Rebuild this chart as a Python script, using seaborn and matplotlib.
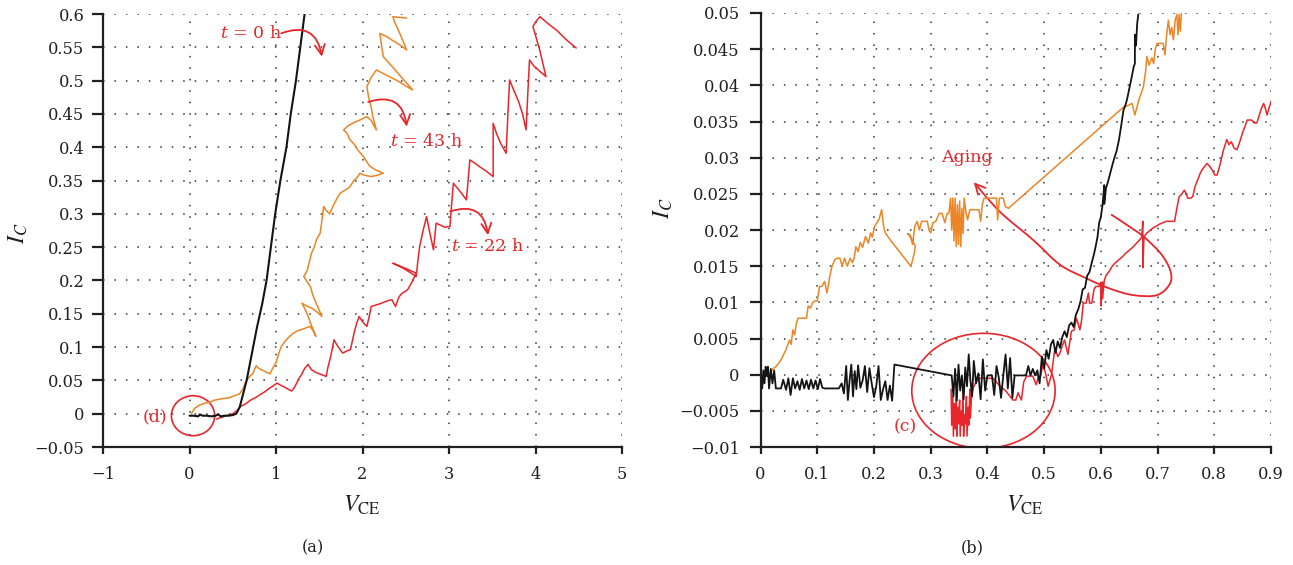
import numpy as np
import matplotlib
matplotlib.use("Agg")
import matplotlib.pyplot as plt
import seaborn as sns
from matplotlib.patches import Ellipse, FancyArrowPatch
from matplotlib.path import Path

# ---------------- data: panel (a) ----------------
t0_x = [0.00, 0.05, 0.10, 0.12, 0.15, 0.20, 0.25, 0.30, 0.33, 0.36, 0.40, 0.45, 0.50, 0.54,
        0.58, 0.62, 0.66, 0.72, 0.78, 0.84, 0.89, 0.94, 0.99, 1.05, 1.12, 1.17, 1.23, 1.28, 1.33]
t0_y = [-0.003, -0.003, -0.004, -0.001, -0.003, -0.003, -0.004, -0.003, -0.001, -0.004, -0.003,
        -0.003, -0.002, 0.000, 0.010, 0.030, 0.050, 0.090, 0.130, 0.165, 0.200, 0.250, 0.300,
        0.350, 0.400, 0.450, 0.500, 0.550, 0.600]

t43_x = [0.02, 0.06, 0.10, 0.14, 0.18, 0.23, 0.28, 0.35, 0.40, 0.46,
         0.52, 0.58, 0.62, 0.64, 0.66, 0.69, 0.71, 0.73, 0.75, 0.77,
         0.80, 0.85, 0.89, 0.93, 0.96, 1.00, 1.03, 1.06, 1.10, 1.14,
         1.20, 1.26, 1.33, 1.39, 1.43, 1.46, 1.41, 1.36, 1.30, 1.35,
         1.42, 1.48, 1.53, 1.49, 1.45, 1.42, 1.40, 1.36, 1.32, 1.36,
         1.41, 1.44, 1.47, 1.51, 1.53, 1.55, 1.58, 1.62, 1.66, 1.70,
         1.74, 1.79, 1.85, 1.90, 1.94, 1.97, 2.02, 2.10, 2.17, 2.24,
         2.15, 2.08, 2.01, 1.95, 1.90, 1.85, 1.82, 1.78, 1.83, 1.90,
         1.97, 2.05, 2.10, 2.16, 2.12, 2.10, 2.07, 2.05, 2.10, 2.16,
         2.28, 2.40, 2.50, 2.58, 2.45, 2.35, 2.24, 2.22, 2.20, 2.28,
         2.35, 2.44, 2.51, 2.45, 2.40, 2.37, 2.35, 2.42, 2.51]
t43_y = [0.000, 0.008, 0.012, 0.014, 0.016, 0.017, 0.020, 0.022, 0.023, 0.024,
         0.027, 0.030, 0.038, 0.045, 0.050, 0.055, 0.058, 0.060, 0.066, 0.072,
         0.068, 0.065, 0.062, 0.060, 0.068, 0.077, 0.090, 0.101, 0.108, 0.114,
         0.121, 0.125, 0.128, 0.131, 0.125, 0.116, 0.132, 0.150, 0.166, 0.162,
         0.158, 0.152, 0.146, 0.158, 0.170, 0.180, 0.190, 0.198, 0.206, 0.215,
         0.241, 0.250, 0.262, 0.271, 0.290, 0.311, 0.305, 0.300, 0.312, 0.322,
         0.331, 0.335, 0.340, 0.350, 0.355, 0.361, 0.358, 0.356, 0.358, 0.361,
         0.366, 0.372, 0.386, 0.395, 0.405, 0.412, 0.421, 0.426, 0.432, 0.437,
         0.441, 0.446, 0.440, 0.426, 0.445, 0.460, 0.475, 0.491, 0.505, 0.516,
         0.508, 0.500, 0.492, 0.486, 0.505, 0.520, 0.536, 0.552, 0.571, 0.566,
         0.560, 0.553, 0.546, 0.565, 0.580, 0.588, 0.596, 0.595, 0.594]

t22_x = [0.31, 0.36, 0.40, 0.45, 0.50, 0.55, 0.59, 0.65, 0.70, 0.76,
         0.82, 0.87, 0.92, 0.97, 1.01, 1.05, 1.08, 1.11, 1.15, 1.18,
         1.22, 1.26, 1.30, 1.33, 1.37, 1.41, 1.46, 1.50, 1.54, 1.58,
         1.60, 1.63, 1.67, 1.70, 1.72, 1.77, 1.80, 1.83, 1.86, 1.90,
         1.93, 1.96, 2.00, 2.05, 2.08, 2.10, 2.15, 2.20, 2.26, 2.30,
         2.34, 2.38, 2.42, 2.45, 2.52, 2.56, 2.58, 2.62, 2.50, 2.42,
         2.35, 2.45, 2.55, 2.62, 2.64, 2.66, 2.70, 2.74, 2.78, 2.82,
         2.85, 2.90, 2.95, 3.01, 3.03, 3.05, 3.10, 3.15, 3.20, 3.22,
         3.24, 3.30, 3.35, 3.42, 3.51, 3.51, 3.55, 3.60, 3.66, 3.68,
         3.70, 3.75, 3.80, 3.85, 3.89, 3.91, 3.93, 3.98, 4.05, 4.12,
         4.05, 3.97, 4.00, 4.05, 4.15, 4.25, 4.35, 4.47]
t22_y = [-0.008, -0.006, -0.004, -0.002, 0.000, 0.005, 0.011, 0.015, 0.020, 0.024,
         0.029, 0.033, 0.038, 0.042, 0.046, 0.043, 0.041, 0.039, 0.036, 0.034,
         0.041, 0.052, 0.060, 0.068, 0.074, 0.066, 0.062, 0.060, 0.058, 0.056,
         0.070, 0.085, 0.111, 0.104, 0.100, 0.091, 0.093, 0.095, 0.096, 0.120,
         0.135, 0.146, 0.138, 0.131, 0.148, 0.161, 0.163, 0.165, 0.168, 0.170,
         0.171, 0.161, 0.175, 0.180, 0.186, 0.195, 0.200, 0.211, 0.218, 0.222,
         0.226, 0.220, 0.212, 0.206, 0.230, 0.251, 0.275, 0.296, 0.270, 0.246,
         0.286, 0.283, 0.280, 0.281, 0.315, 0.346, 0.338, 0.330, 0.321, 0.350,
         0.381, 0.376, 0.371, 0.365, 0.356, 0.436, 0.420, 0.405, 0.391, 0.450,
         0.501, 0.485, 0.470, 0.450, 0.426, 0.480, 0.531, 0.522, 0.514, 0.506,
         0.545, 0.581, 0.588, 0.596, 0.585, 0.575, 0.562, 0.549]

# ---------------- data: panel (b) ----------------
b_black_x = [0.000, 0.000, 0.000, 0.003, 0.005, 0.007, 0.009, 0.011, 0.013, 0.015,
             0.018, 0.021, 0.024, 0.027, 0.031, 0.036, 0.040, 0.045, 0.049, 0.053,
             0.057, 0.061, 0.065, 0.069, 0.073, 0.077, 0.081, 0.085, 0.089, 0.093,
             0.097, 0.101, 0.105, 0.109, 0.113, 0.118, 0.123, 0.128, 0.133, 0.138,
             0.143, 0.147, 0.151, 0.154, 0.157, 0.160, 0.163, 0.166, 0.169, 0.172,
             0.176, 0.180, 0.184, 0.188, 0.192, 0.196, 0.200, 0.204, 0.208, 0.212,
             0.216, 0.220, 0.224, 0.228, 0.232, 0.236, 0.337, 0.340, 0.343, 0.346,
             0.349, 0.352, 0.355, 0.358, 0.361, 0.364, 0.367, 0.370, 0.373, 0.376,
             0.380, 0.384, 0.388, 0.392, 0.396, 0.400, 0.404, 0.408, 0.412, 0.416,
             0.420, 0.424, 0.428, 0.432, 0.436, 0.440, 0.444, 0.448, 0.452, 0.456,
             0.460, 0.464, 0.468, 0.472, 0.476, 0.480, 0.484, 0.488, 0.492, 0.496,
             0.500, 0.504, 0.508, 0.512, 0.516, 0.520, 0.524, 0.528, 0.532, 0.536,
             0.540, 0.544, 0.548, 0.552, 0.556, 0.560, 0.564, 0.568, 0.572, 0.576,
             0.580, 0.584, 0.588, 0.591, 0.594, 0.597, 0.600, 0.603, 0.606, 0.606,
             0.609, 0.612, 0.615, 0.618, 0.621, 0.624, 0.628, 0.632, 0.636, 0.640,
             0.643, 0.646, 0.650, 0.654, 0.658, 0.660, 0.660, 0.662, 0.664, 0.666]
b_black_y = [0.0027, -0.0053, 0.0010, -0.0019, 0.0006, -0.0012, 0.0011, -0.0002, 0.0011, -0.0019,
             0.0008, -0.0012, 0.0006, -0.0019, -0.0019, -0.0019, -0.0007, -0.0021, -0.0005, -0.0028,
             -0.0005, -0.0019, -0.0009, -0.0021, -0.0006, -0.0019, -0.0008, -0.0020, -0.0007, -0.0019,
             -0.0008, -0.0020, -0.0006, -0.0018, -0.0019, -0.0019, -0.0019, -0.0019, -0.0019, -0.0019,
             -0.0012, -0.0026, 0.0012, -0.0035, -0.0008, 0.0014, -0.0030, 0.0005, -0.0020, 0.0013,
             -0.0018, -0.0008, 0.0012, -0.0024, 0.0009, -0.0012, -0.0031, -0.0016, 0.0012, -0.0035,
             -0.0020, -0.0009, -0.0035, -0.0015, -0.0036, 0.0014, -0.0001, -0.0030, 0.0008, -0.0036,
             0.0014, -0.0022, -0.0001, -0.0034, 0.0010, -0.0016, 0.0028, -0.0008, -0.0030, 0.0019,
             -0.0012, 0.0002, -0.0034, 0.0021, -0.0022, -0.0001, -0.0001, -0.0001, -0.0028, 0.0012,
             -0.0004, -0.0032, -0.0001, 0.0028, -0.0019, 0.0023, -0.0032, -0.0001, -0.0001, -0.0001,
             -0.0001, -0.0001, -0.0001, 0.0012, -0.0001, 0.0008, -0.0001, 0.0006, -0.0012, 0.0025,
             0.0008, 0.0034, 0.0022, 0.0042, 0.0048, 0.0030, 0.0046, 0.0037, 0.0052, 0.0060,
             0.0052, 0.0068, 0.0072, 0.0066, 0.0083, 0.0090, 0.0101, 0.0118, 0.0120, 0.0137,
             0.0142, 0.0155, 0.0167, 0.0178, 0.0190, 0.0210, 0.0218, 0.0235, 0.0262, 0.0236,
             0.0258, 0.0265, 0.0274, 0.0283, 0.0292, 0.0300, 0.0310, 0.0325, 0.0345, 0.0366,
             0.0372, 0.0380, 0.0395, 0.0410, 0.0426, 0.0430, 0.0470, 0.0455, 0.0485, 0.0498]

b_orange_x = [0.000, 0.000, 0.002, 0.008, 0.016, 0.022, 0.028, 0.034, 0.039, 0.045,
              0.051, 0.054, 0.057, 0.060, 0.063, 0.066, 0.070, 0.075, 0.081, 0.084,
              0.088, 0.092, 0.096, 0.100, 0.104, 0.108, 0.113, 0.117, 0.120, 0.122,
              0.126, 0.131, 0.135, 0.140, 0.144, 0.148, 0.153, 0.158, 0.162, 0.165,
              0.168, 0.172, 0.176, 0.180, 0.185, 0.190, 0.194, 0.197, 0.201, 0.205,
              0.209, 0.2135, 0.217, 0.220, 0.230, 0.240, 0.250, 0.258, 0.265, 0.268,
              0.271, 0.273, 0.262, 0.259, 0.264, 0.268, 0.272, 0.276, 0.280, 0.284,
              0.290, 0.294, 0.297, 0.300, 0.304, 0.309, 0.315, 0.320, 0.325, 0.329,
              0.332, 0.335, 0.337, 0.339, 0.341, 0.343, 0.345, 0.347, 0.349, 0.351,
              0.353, 0.355, 0.357, 0.359, 0.362, 0.365, 0.369, 0.374, 0.380, 0.385,
              0.388, 0.391, 0.394, 0.399, 0.405, 0.410, 0.416, 0.418, 0.421, 0.424,
              0.428, 0.432, 0.437, 0.640, 0.648, 0.655, 0.660, 0.667, 0.675, 0.679,
              0.681, 0.685, 0.690, 0.693, 0.696, 0.699, 0.705, 0.710, 0.713, 0.716,
              0.719, 0.722, 0.725, 0.728, 0.731, 0.734, 0.736, 0.738, 0.740, 0.742]
b_orange_y = [-0.0050, 0.0030, -0.0010, 0.0000, 0.0002, 0.0008, 0.0012, 0.0018, 0.0025, 0.0035,
              0.0048, 0.0042, 0.0062, 0.0055, 0.0070, 0.0078, 0.0078, 0.0078, 0.0078, 0.0095,
              0.0092, 0.0100, 0.0102, 0.0102, 0.0122, 0.0122, 0.0129, 0.0113, 0.0125, 0.0136,
              0.0150, 0.0159, 0.0161, 0.0161, 0.0150, 0.0161, 0.0150, 0.0161, 0.0155, 0.0161,
              0.0177, 0.0170, 0.0183, 0.0176, 0.0191, 0.0182, 0.0196, 0.0190, 0.0205, 0.0210,
              0.0215, 0.0228, 0.0205, 0.0196, 0.0185, 0.0175, 0.0165, 0.0157, 0.0150, 0.0158,
              0.0168, 0.0178, 0.0193, 0.0195, 0.0193, 0.0180, 0.0205, 0.0212, 0.0200, 0.0212,
              0.0212, 0.0212, 0.0200, 0.0196, 0.0210, 0.0212, 0.0223, 0.0223, 0.0210, 0.0223,
              0.0223, 0.0244, 0.0200, 0.0244, 0.0185, 0.0244, 0.0177, 0.0235, 0.0180, 0.0240,
              0.0177, 0.0230, 0.0195, 0.0244, 0.0225, 0.0214, 0.0228, 0.0228, 0.0228, 0.0228,
              0.0212, 0.0235, 0.0244, 0.0244, 0.0244, 0.0244, 0.0244, 0.0214, 0.0244, 0.0244,
              0.0244, 0.0232, 0.0230, 0.0370, 0.0372, 0.0375, 0.0359, 0.0380, 0.0398, 0.0420,
              0.0440, 0.0428, 0.0438, 0.0430, 0.0450, 0.0458, 0.0458, 0.0458, 0.0442, 0.0470,
              0.0490, 0.0470, 0.0480, 0.0463, 0.0490, 0.0498, 0.0470, 0.0498, 0.0475, 0.0500]

b_red_x = [0.336, 0.337, 0.339, 0.340, 0.342, 0.343, 0.345, 0.346, 0.348, 0.349,
           0.351, 0.352, 0.354, 0.355, 0.357, 0.358, 0.360, 0.361, 0.363, 0.364,
           0.366, 0.367, 0.369, 0.370, 0.372, 0.375, 0.380, 0.385, 0.390, 0.395,
           0.400, 0.405, 0.410, 0.420, 0.433, 0.440, 0.445, 0.450, 0.454, 0.460,
           0.464, 0.469, 0.475, 0.480, 0.486, 0.490, 0.494, 0.498, 0.503, 0.507,
           0.513, 0.519, 0.524, 0.528, 0.532, 0.536, 0.542, 0.548, 0.553, 0.557,
           0.563, 0.566, 0.569, 0.574, 0.578, 0.580, 0.584, 0.588, 0.591, 0.595,
           0.598, 0.600, 0.600, 0.602, 0.603, 0.603, 0.606, 0.609, 0.615, 0.620,
           0.626, 0.632, 0.638, 0.644, 0.650, 0.656, 0.662, 0.668, 0.672, 0.674,
           0.674, 0.676, 0.680, 0.686, 0.692, 0.697, 0.703, 0.709, 0.715, 0.722,
           0.730, 0.734, 0.738, 0.743, 0.747, 0.751, 0.753, 0.758, 0.762, 0.766,
           0.771, 0.776, 0.781, 0.787, 0.792, 0.797, 0.801, 0.805, 0.810, 0.816,
           0.822, 0.826, 0.830, 0.835, 0.840, 0.845, 0.850, 0.855, 0.858, 0.862,
           0.866, 0.870, 0.875, 0.879, 0.883, 0.887, 0.890, 0.893, 0.897, 0.902]
b_red_y = [-0.0020, -0.0070, -0.0030, -0.0085, -0.0040, -0.0075, -0.0025, -0.0085, -0.0045, -0.0068,
           -0.0035, -0.0085, -0.0050, -0.0070, -0.0020, -0.0085, -0.0055, -0.0068, -0.0030, -0.0085,
           -0.0045, -0.0070, -0.0020, -0.0060, -0.0030, -0.0018, -0.0010, -0.0005, -0.0005, -0.0005,
           -0.0005, -0.0005, -0.0005, -0.0014, -0.0023, -0.0030, -0.0035, -0.0035, -0.0025, -0.0035,
           -0.0010, -0.0002, -0.0002, -0.0002, -0.0014, -0.0002, -0.0002, 0.0016, 0.0000, -0.0016,
           0.0000, 0.0037, 0.0025, 0.0030, 0.0040, 0.0048, 0.0028, 0.0060, 0.0062, 0.0078,
           0.0062, 0.0075, 0.0099, 0.0099, 0.0113, 0.0099, 0.0099, 0.0118, 0.0122, 0.0122,
           0.0122, 0.0128, 0.0095, 0.0125, 0.0128, 0.0105, 0.0130, 0.0137, 0.0143, 0.0150,
           0.0155, 0.0159, 0.0163, 0.0168, 0.0172, 0.0176, 0.0181, 0.0186, 0.0190, 0.0212,
           0.0148, 0.0190, 0.0195, 0.0199, 0.0203, 0.0205, 0.0208, 0.0210, 0.0212, 0.0212,
           0.0212, 0.0230, 0.0246, 0.0250, 0.0255, 0.0250, 0.0244, 0.0244, 0.0246, 0.0260,
           0.0270, 0.0280, 0.0286, 0.0292, 0.0288, 0.0282, 0.0276, 0.0276, 0.0290, 0.0310,
           0.0325, 0.0318, 0.0322, 0.0313, 0.0311, 0.0322, 0.0335, 0.0345, 0.0352, 0.0352,
           0.0352, 0.0348, 0.0348, 0.0358, 0.0368, 0.0375, 0.0368, 0.0359, 0.0370, 0.0382]

# ticks
a_xticks = [-1, 0, 1, 2, 3, 4, 5]
a_xlabels = ["\u22121", "0", "1", "2", "3", "4", "5"]
a_yticks = [-0.05, 0, 0.05, 0.1, 0.15, 0.2, 0.25, 0.3, 0.35, 0.4, 0.45, 0.5, 0.55, 0.6]
a_ylabels = ["\u22120.05", "0", "0.05", "0.1", "0.15", "0.2", "0.25", "0.3", "0.35", "0.4",
             "0.45", "0.5", "0.55", "0.6"]
b_xticks = [0, 0.1, 0.2, 0.3, 0.4, 0.5, 0.6, 0.7, 0.8, 0.9]
b_xlabels = ["0", "0.1", "0.2", "0.3", "0.4", "0.5", "0.6", "0.7", "0.8", "0.9"]
b_yticks = [-0.01, -0.005, 0, 0.005, 0.01, 0.015, 0.02, 0.025, 0.03, 0.035, 0.04, 0.045, 0.05]
b_ylabels = ["\u22120.01", "\u22120.005", "0", "0.005", "0.01", "0.015", "0.02", "0.025", "0.03",
             "0.035", "0.04", "0.045", "0.05"]

# annotation shape of "Aging" loop (panel b)
aging_x = [0.619, 0.646, 0.675, 0.705, 0.722, 0.722, 0.699, 0.657, 0.616, 0.575, 0.528, 0.481, 0.4224, 0.376]
aging_y = [0.0221, 0.0207, 0.0191, 0.0168, 0.0145, 0.0126, 0.0110, 0.0110, 0.0119, 0.0133, 0.0152, 0.0186, 0.0225, 0.0266]

# ---------------- style ----------------
sns.set_style("ticks")
plt.rcParams["font.family"] = ["DejaVu Serif"]
plt.rcParams["mathtext.fontset"] = "stix"

BLACK = "#141414"
ORANGE = "#EC8526"
RED = "#E8262B"
AX = "#231F20"
FS = 11.7
AFS = 12.5

fig = plt.figure(figsize=(12.93, 5.65), dpi=100)
ax1 = fig.add_axes([0.0797, 0.2088, 0.4014, 0.7664])
ax2 = fig.add_axes([0.5882, 0.2088, 0.3948, 0.7682])


def style_axes(ax, xt, xl, yt, yl, xlim, ylim, ypad):
    ax.set_xlim(*xlim)
    ax.set_ylim(*ylim)
    ax.set_xticks(xt)
    ax.set_xticklabels(xl)
    ax.set_yticks(yt)
    ax.set_yticklabels(yl)
    for s in ["top", "right"]:
        ax.spines[s].set_visible(False)
    for s in ["left", "bottom"]:
        ax.spines[s].set_linewidth(1.6)
        ax.spines[s].set_color(AX)
    ax.tick_params(axis="y", direction="out", length=8, width=1.6, color=AX,
                   labelsize=FS, pad=ypad, labelcolor=AX)
    ax.tick_params(axis="x", direction="out", length=5, width=1.6, color=AX,
                   labelsize=FS, pad=9, labelcolor=AX)
    ax.grid(True, linestyle=(0, (1, 6.5)), color="#333333", linewidth=1.1)
    ax.set_axisbelow(True)


def draw(ax, x, y, color, lw):
    sns.lineplot(x=x, y=y, sort=False, estimator=None, color=color, linewidth=lw, ax=ax)


def note(ax, x, y, s):
    ax.text(x, y, s, color=RED, fontsize=AFS, ha="center", va="center",
            math_fontfamily="dejavuserif")


# ---------------- panel (a) ----------------
style_axes(ax1, a_xticks, a_xlabels, a_yticks, a_ylabels, (-1, 5), (-0.05, 0.6), 5.5)
draw(ax1, t22_x, t22_y, RED, 1.1)
draw(ax1, t43_x, t43_y, ORANGE, 1.1)
draw(ax1, t0_x, t0_y, BLACK, 1.5)

ax1.set_xlabel(r"$V_{\mathrm{CE}}$", fontsize=17, color=AX)
ax1.xaxis.set_label_coords(0.499, -0.108)
ax1.set_ylabel(r"$I_C$", fontsize=17, color=AX)
ax1.yaxis.set_label_coords(-0.14, 0.494)

arr = dict(arrowstyle="->,head_length=0.6,head_width=0.3", color=RED, lw=1.3,
           shrinkA=0, shrinkB=0, connectionstyle="arc3,rad=-0.6", mutation_scale=12)
note(ax1, 0.71, 0.571, r"$t$ = 0 h")
ax1.annotate("", xy=(1.53, 0.536), xytext=(1.06, 0.571), arrowprops=arr)
note(ax1, 2.74, 0.4085, r"$t$ = 43 h")
ax1.annotate("", xy=(2.51, 0.431), xytext=(2.065, 0.468), arrowprops=arr)
note(ax1, 3.45, 0.251, r"$t$ = 22 h")
ax1.annotate("", xy=(3.45, 0.268), xytext=(3.01, 0.3035), arrowprops=arr)

ax1.add_patch(Ellipse((0.04, -0.003), 0.50, 0.060, fill=False, ec=RED, lw=1.2))
note(ax1, -0.40, -0.004, "(d)")

# ---------------- panel (b) ----------------
style_axes(ax2, b_xticks, b_xlabels, b_yticks, b_ylabels, (0, 0.9), (-0.01, 0.05), 7)
draw(ax2, b_orange_x, b_orange_y, ORANGE, 1.1)
draw(ax2, b_red_x, b_red_y, RED, 1.1)
draw(ax2, b_black_x, b_black_y, BLACK, 1.3)

ax2.set_xlabel(r"$V_{\mathrm{CE}}$", fontsize=17, color=AX)
ax2.xaxis.set_label_coords(0.518, -0.108)
ax2.set_ylabel(r"$I_C$", fontsize=17, color=AX)
ax2.yaxis.set_label_coords(-0.167, 0.55)

ax2.add_patch(Ellipse((0.393, -0.00223), 0.2527, 0.0159, fill=False, ec=RED, lw=1.2))
note(ax2, 0.255, -0.0072, "(c)")
note(ax2, 0.364, 0.0300, "Aging")


def smooth_path(xs, ys):
    pts = np.column_stack([xs, ys])
    n = len(pts)
    verts = [pts[0]]
    codes = [Path.MOVETO]
    for i in range(n - 1):
        p0 = pts[i - 1] if i > 0 else pts[i]
        p1 = pts[i]
        p2 = pts[i + 1]
        p3 = pts[i + 2] if i + 2 < n else pts[i + 1]
        verts += [p1 + (p2 - p0) / 6.0, p2 - (p3 - p1) / 6.0, p2]
        codes += [Path.CURVE4] * 3
    return Path(verts, codes)


loop = FancyArrowPatch(path=smooth_path(aging_x, aging_y),
                       arrowstyle="->,head_length=0.6,head_width=0.3",
                       mutation_scale=12, color=RED, lw=1.3)
ax2.add_patch(loop)

fig.text(313 / 1293, 1 - 548 / 565, "(a)", fontsize=FS, ha="center", va="center", color=AX)
fig.text(972 / 1293, 1 - 548 / 565, "(b)", fontsize=FS, ha="center", va="center", color=AX)

fig.savefig("out.png", dpi=100)
